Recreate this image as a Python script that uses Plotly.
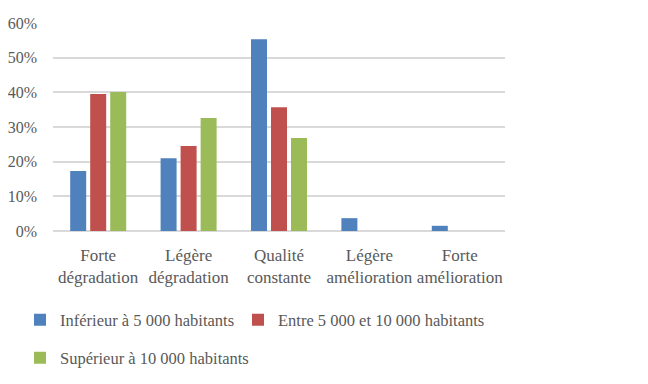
import plotly.graph_objects as go

categories = ["Forte<br>dégradation", "Légère<br>dégradation", "Qualité<br>constante",
              "Légère<br>amélioration", "Forte<br>amélioration"]
series_names = ["Inférieur à 5 000 habitants", "Entre 5 000 et 10 000 habitants",
                "Supérieur à 10 000 habitants"]
small = [0.173, 0.210, 0.553, 0.037, 0.015]
medium = [0.395, 0.245, 0.357, 0.0, 0.0]
large = [0.401, 0.326, 0.268, 0.0, 0.0]
colors = ["#4F81BD", "#C0504D", "#9BBB59"]
tick_vals = [0, 0.1, 0.2, 0.3, 0.4, 0.5, 0.6]
tick_text = ["0%", "10%", "20%", "30%", "40%", "50%", "60%"]

W, H = 640, 376
font = dict(family="Liberation Serif", size=17, color="#595959")
lfont = dict(family="Liberation Serif", size=16.5, color="#595959")
tfont = dict(family="Liberation Serif", size=16, color="#595959")

fig = go.Figure()
for name, vals, col, lg in zip(series_names, [small, medium, large], colors,
                               ["legend", "legend2", "legend3"]):
    fig.add_trace(go.Bar(x=categories, y=vals, name=name, marker_color=col,
                         marker_line_width=0, legend=lg))

def leg(x, y):
    return dict(orientation="h", xref="container", yref="container",
                x=x / W, y=1 - y / H, xanchor="left", yanchor="middle",
                font=lfont, itemwidth=30, bgcolor="rgba(0,0,0,0)", borderwidth=0)

fig.update_layout(
    width=W, height=H,
    margin=dict(l=45, r=143, t=15, b=153, autoexpand=False),
    paper_bgcolor="white", plot_bgcolor="white",
    font=font,
    barmode="group", bargap=0.336, bargroupgap=0.2,
    legend=leg(12, 312),
    legend2=leg(230, 312),
    legend3=leg(12, 350),
    showlegend=True,
)
fig.update_xaxes(showgrid=False, showline=False, ticks="", tickfont=font,
                 tickangle=0, ticklabelstandoff=12)
fig.update_yaxes(range=[0, 0.6], tickvals=tick_vals, ticktext=tick_text,
                 showgrid=True, gridcolor="#D9D9D9", gridwidth=1.5,
                 zeroline=True, zerolinecolor="#D9D9D9", zerolinewidth=1.5,
                 showline=False, ticks="", ticklabelstandoff=15, tickfont=tfont)

fig.write_html("out.html")
